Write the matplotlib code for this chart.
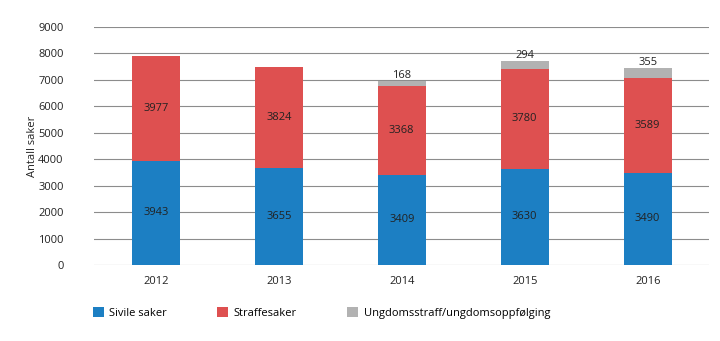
import numpy as np
import matplotlib
matplotlib.use("Agg")
import matplotlib.pyplot as plt
from matplotlib import rcParams

rcParams['font.family'] = ['Open Sans', 'DejaVu Sans']
rcParams['font.size'] = 8

years = ['2012', '2013', '2014', '2015', '2016']
sivile = [3943, 3655, 3409, 3630, 3490]
straffe = [3977, 3824, 3368, 3780, 3589]
ungdom = [0, 0, 168, 294, 355]

c_blue = '#1c7fc3'
c_red = '#de5050'
c_grey = '#b2b2b2'

fig = plt.figure(figsize=(7.2, 3.41), dpi=100)
ax = fig.add_axes([0.131, 0.223, 0.854, 0.698])

x = np.arange(len(years))
w = 0.39
b1 = ax.bar(x, sivile, w, color=c_blue, label='Sivile saker', zorder=3)
b2 = ax.bar(x, straffe, w, bottom=sivile, color=c_red, label='Straffesaker', zorder=3)
bot3 = np.array(sivile) + np.array(straffe)
b3 = ax.bar(x, ungdom, w, bottom=bot3, color=c_grey,
            label='Ungdomsstraff/ungdomsoppfølging', zorder=3)

for i in range(len(years)):
    ax.text(x[i], sivile[i] / 2., str(sivile[i]), ha='center', va='center', color='#222222')
    ax.text(x[i], sivile[i] + straffe[i] / 2., str(straffe[i]), ha='center', va='center', color='#222222')
    if ungdom[i] > 0:
        ax.text(x[i], bot3[i] + ungdom[i], str(ungdom[i]), ha='center', va='bottom', color='#222222')

ax.set_xlim(-0.5, 4.5)
ax.set_ylim(0, 9000)
ax.set_yticks(np.arange(0, 9001, 1000))
ax.set_xticks(x)
ax.set_xticklabels(years)
ax.yaxis.grid(True, color='#8c8c8c', linewidth=0.8, zorder=0)
for s in ['top', 'right', 'left', 'bottom']:
    ax.spines[s].set_visible(False)
ax.tick_params(axis='both', length=0, colors='#222222')
ax.tick_params(axis='y', pad=22)
ax.tick_params(axis='x', pad=8)
ax.set_ylabel('Antall saker', color='#222222', labelpad=0)

fig.legend(handles=[b1, b2, b3], loc='center left', bbox_to_anchor=(0.115, 0.082),
           ncol=3, frameon=False, handlelength=1.0, handleheight=1.0,
           columnspacing=4.5, handletextpad=0.5, fontsize=8)

plt.savefig('out.png', dpi=100)
